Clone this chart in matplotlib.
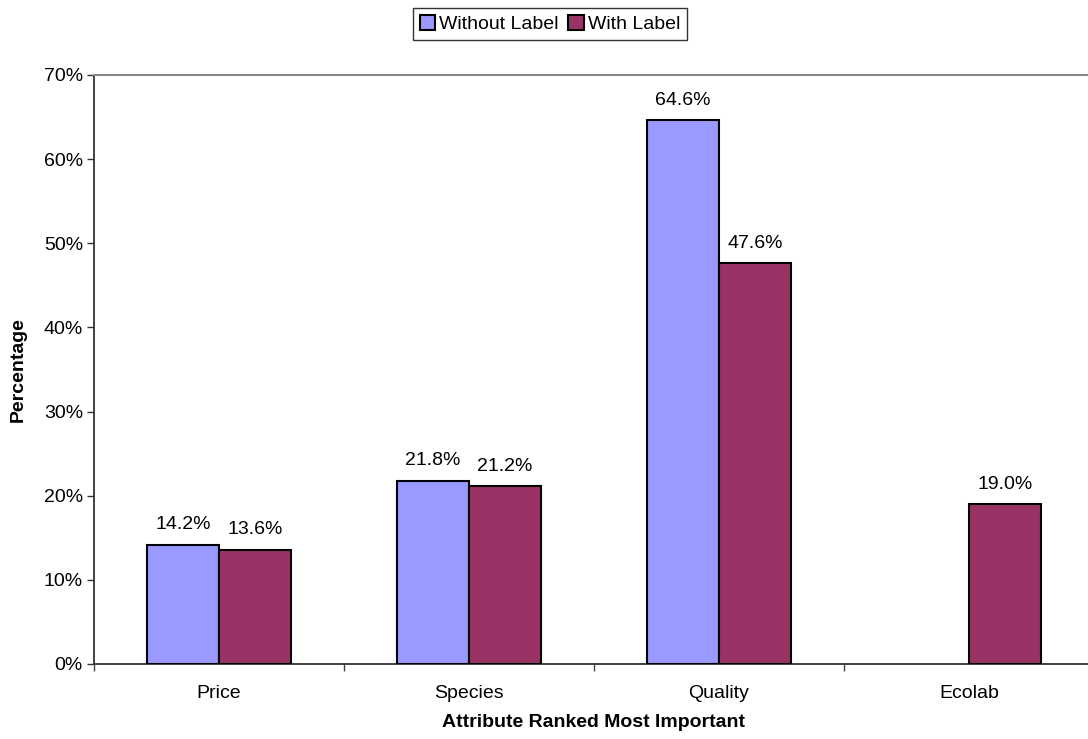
import matplotlib
matplotlib.use("Agg")
import matplotlib.pyplot as plt
import numpy as np
from matplotlib.ticker import PercentFormatter, FixedLocator

plt.rcParams['font.family'] = ['Liberation Sans', 'DejaVu Sans']

categories = ["Price", "Species", "Quality", "Ecolab"]
without_label = [14.2, 21.8, 64.6, None]
with_label = [13.6, 21.2, 47.6, 19.0]
series_names = ["Without Label", "With Label"]
colors = ["#9999FF", "#993366"]

FS = 14
W, H = 1088, 739
fig = plt.figure(figsize=(W / 100, H / 100), dpi=100)
# plot area runs past the right edge of the canvas
ax = fig.add_axes([94 / W, 75 / H, 1000 / W, 589 / H])

x = np.arange(len(categories))
bw = 72 / 250

for i, (vals, name, col) in enumerate(zip([without_label, with_label], series_names, colors)):
    xs = [xi for xi, v in zip(x, vals) if v is not None]
    vs = [v for v in vals if v is not None]
    offset = (i - 0.5) * bw
    bars = ax.bar(np.array(xs) + offset, vs, width=bw, color=col, edgecolor="black",
                  linewidth=1.5, label=name, zorder=3)
    for b, v in zip(bars, vs):
        ax.annotate(f"{v:.1f}%", (b.get_x() + b.get_width() / 2, v),
                    xytext=(0, 8), textcoords="offset points",
                    ha="center", va="bottom", fontsize=FS)

ax.set_xlim(-0.5, len(categories) - 0.5)
ax.set_ylim(0, 70)
ax.yaxis.set_major_locator(FixedLocator(np.arange(0, 71, 10)))
ax.yaxis.set_major_formatter(PercentFormatter(decimals=0))

ax.set_xticks(x)
ax.set_xticklabels(categories, fontsize=FS)
ax.xaxis.set_minor_locator(FixedLocator(np.arange(-0.5, len(categories), 1.0)))
ax.tick_params(axis="x", which="major", length=0, pad=15)
ax.tick_params(axis="x", which="minor", length=5, width=1, color="#444444", direction="out")
ax.tick_params(axis="y", which="major", length=5, width=1, color="#333333", direction="out",
               labelsize=FS, pad=3)

for s in ["left", "bottom"]:
    ax.spines[s].set_color("#333333")
    ax.spines[s].set_linewidth(1.3)
ax.spines["top"].set_color("#888888")
ax.spines["top"].set_linewidth(1.5)
ax.spines["right"].set_visible(False)

ax.set_ylabel("Percentage", fontsize=FS, fontweight="bold")
ax.set_xlabel("Attribute Ranked Most Important", fontsize=FS, fontweight="bold")
ax.xaxis.set_label_coords(0.5, -(714 - 664) / 589)
ax.yaxis.set_label_coords(-(94 - 27) / 1000, 0.5)

leg = fig.legend(loc="center", bbox_to_anchor=(550 / W, 1 - 24 / H), ncol=2,
                 fontsize=FS, frameon=True, fancybox=False, edgecolor="black",
                 handlelength=0.8, handleheight=0.8, handletextpad=0.2,
                 columnspacing=0.5, borderpad=0.35, borderaxespad=0)
leg.get_frame().set_linewidth(1.0)
for h in leg.legend_handles:
    h.set_linewidth(1.5)

fig.savefig("out.png", dpi=100)
